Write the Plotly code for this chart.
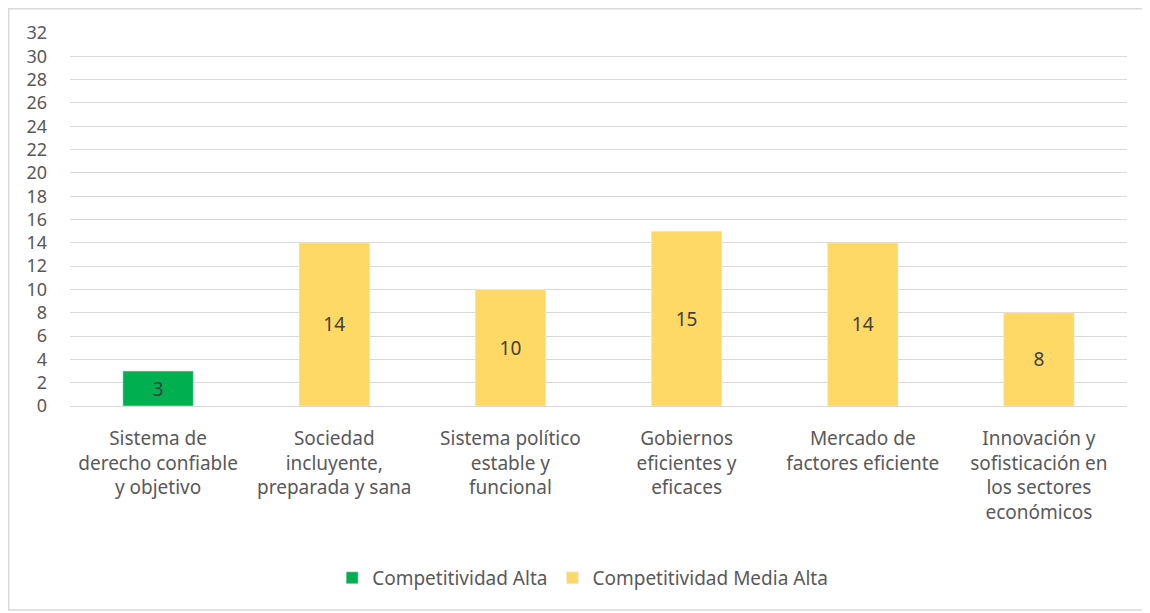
import plotly.graph_objects as go

categories = [
    "Sistema de<br>derecho confiable<br>y objetivo",
    "Sociedad<br>incluyente,<br>preparada y sana",
    "Sistema político<br>estable y<br>funcional",
    "Gobiernos<br>eficientes y<br>eficaces",
    "Mercado de<br>factores eficiente",
    "Innovación y<br>sofisticación en<br>los sectores<br>económicos",
]
alta = [3, None, None, None, None, None]
media_alta = [None, 14, 10, 15, 14, 8]
y_ticks = list(range(0, 33, 2))

FONT = "Noto Sans"
TXT = "#595959"

fig = go.Figure()
fig.add_trace(go.Bar(
    x=categories, y=alta, name="Competitividad Alta",
    marker_color="#00B050", width=0.4,
    text=alta, textposition="inside", insidetextanchor="middle",
    textfont=dict(color="#404040", size=19, family=FONT),
))
fig.add_trace(go.Bar(
    x=categories, y=media_alta, name="Competitividad Media Alta",
    marker_color="#FFD966", width=0.4,
    text=media_alta, textposition="inside", insidetextanchor="middle",
    textfont=dict(color="#404040", size=19, family=FONT),
))

fig.update_layout(
    width=1150, height=613,
    barmode="overlay",
    paper_bgcolor="white", plot_bgcolor="white",
    font=dict(family=FONT, color=TXT, size=19),
    margin=dict(l=62, r=31, t=25, b=215),
    legend=dict(orientation="h", x=0.485, xanchor="center", y=-0.461, yanchor="middle",
                font=dict(size=19), traceorder="normal", itemwidth=30),
    xaxis=dict(tickfont=dict(size=19), ticklabelstandoff=15, showline=True,
               linecolor="#D9D9D9", linewidth=1, automargin=False),
    yaxis=dict(range=[0, 32], tickvals=y_ticks, gridcolor="#D9D9D9", gridwidth=1,
               zeroline=False, ticklabelstandoff=22, tickfont=dict(size=18),
               automargin=False),
    shapes=[dict(type="rect", xref="paper", yref="paper", x0=-0.058, x1=1.017,
                 y0=-0.547, y1=1.065, line=dict(color="#D9D9D9", width=1.5))],
)

fig.write_html("out.html")
